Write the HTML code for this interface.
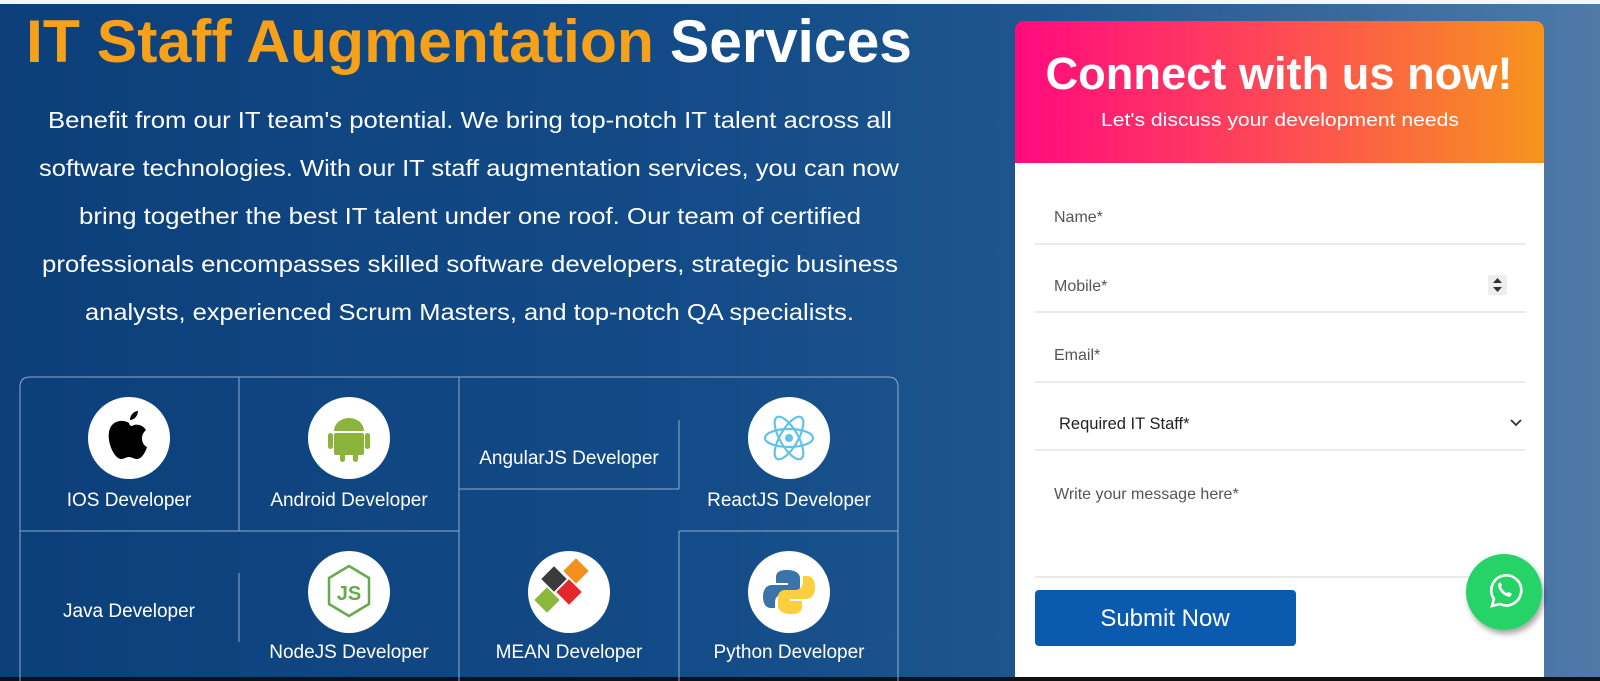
<!DOCTYPE html>
<html><head><meta charset="utf-8"><style>
html,body{margin:0;padding:0;width:1600px;height:681px;overflow:hidden;background:#0f4a86}
svg{display:block}
text{font-family:"Liberation Sans",sans-serif}
</style></head><body>
<svg width="1600" height="681" viewBox="0 0 1600 681" xmlns="http://www.w3.org/2000/svg">
<defs>
<linearGradient id="bg" x1="0" y1="0" x2="1" y2="0">
<stop offset="0" stop-color="#0c3f7a"/><stop offset="0.45" stop-color="#134c88"/><stop offset="0.65" stop-color="#1f568f"/><stop offset="1" stop-color="#4f7aa8"/>
</linearGradient>
<linearGradient id="hd" x1="0" y1="0" x2="1" y2="0">
<stop offset="0" stop-color="#ff0a7e"/><stop offset="0.5" stop-color="#fe4a55"/><stop offset="1" stop-color="#f7941d"/>
</linearGradient>
<filter id="sh" x="-30%" y="-30%" width="160%" height="160%"><feDropShadow dx="2" dy="4" stdDeviation="3" flood-opacity="0.35"/></filter>
</defs>
<rect width="1600" height="681" fill="url(#bg)"/>
<rect x="0" y="0" width="1600" height="4" fill="#f4f6f8"/>
<rect x="0" y="677" width="1600" height="4" fill="#111"/>

<text x="26" y="62" font-size="60" font-weight="bold" fill="#f7a11a" textLength="628" lengthAdjust="spacingAndGlyphs">IT Staff Augmentation</text>
<text x="670" y="62" font-size="60" font-weight="bold" fill="#fff" textLength="242" lengthAdjust="spacingAndGlyphs">Services</text>

<g fill="#fff" font-size="23">
<text x="48" y="128" textLength="844" lengthAdjust="spacingAndGlyphs">Benefit from our IT team's potential. We bring top-notch IT talent across all</text>
<text x="39" y="176" textLength="860" lengthAdjust="spacingAndGlyphs">software technologies. With our IT staff augmentation services, you can now</text>
<text x="79" y="224" textLength="782" lengthAdjust="spacingAndGlyphs">bring together the best IT talent under one roof. Our team of certified</text>
<text x="42" y="272" textLength="856" lengthAdjust="spacingAndGlyphs">professionals encompasses skilled software developers, strategic business</text>
<text x="85" y="320" textLength="769" lengthAdjust="spacingAndGlyphs">analysts, experienced Scrum Masters, and top-notch QA specialists.</text>
</g>

<g stroke="#9fb6d2" stroke-width="1" fill="none" opacity="0.9">
<path d="M20,690 V387 Q20,377 30,377 H888 Q898,377 898,387 V690"/>
<line x1="239" y1="377" x2="239" y2="531"/>
<line x1="459" y1="377" x2="459" y2="690"/>
<line x1="20" y1="531" x2="459" y2="531"/>
<line x1="459" y1="489" x2="679" y2="489"/>
<line x1="679" y1="420" x2="679" y2="489"/>
<line x1="679" y1="531" x2="679" y2="690"/>
<line x1="679" y1="531" x2="898" y2="531"/>
<line x1="239" y1="573" x2="239" y2="642"/>
</g>

<g fill="#fff">
<circle cx="129" cy="438" r="41"/>
<circle cx="349" cy="438" r="41"/>
<circle cx="789" cy="438" r="41"/>
<circle cx="349" cy="592" r="41"/>
<circle cx="569" cy="592" r="41"/>
<circle cx="789" cy="592" r="41"/>
</g>
<path d="M129,423 c-6,-4 -18,-3 -20,9 c-2,12 6,27 12,27 c3,0 5,-2 8,-2 c3,0 5,2 8,2 c5,0 9,-8 10,-12 c-6,-3 -7,-12 -1,-17 c-3,-5 -9,-6 -12,-5 c-2,1 -4,2 -5,-2z M130,420 c0,-5 4,-9 8,-9 c0,5 -4,9 -8,9z" fill="#000"/>
<g fill="#8cb33b">
<path d="M334,431 a15,13 0 0 1 30,0 z"/>
<rect x="334" y="433" width="30" height="22" rx="2"/>
<rect x="328" y="433" width="5" height="16" rx="2.5"/>
<rect x="365" y="433" width="5" height="16" rx="2.5"/>
<rect x="340" y="450" width="5" height="12" rx="2.5"/>
<rect x="353" y="450" width="5" height="12" rx="2.5"/>
</g>
<g stroke="#61c3e8" stroke-width="2.2" fill="none">
<ellipse cx="789" cy="438" rx="24" ry="9"/>
<ellipse cx="789" cy="438" rx="24" ry="9" transform="rotate(60 789 438)"/>
<ellipse cx="789" cy="438" rx="24" ry="9" transform="rotate(-60 789 438)"/>
</g>
<circle cx="789" cy="438" r="4" fill="#61c3e8"/>
<path d="M349,566 l20,12 v26 l-20,12 l-20,-12 v-26z" fill="none" stroke="#6aa84f" stroke-width="2.5"/>
<text x="349" y="600" font-size="20" fill="#6aa84f" text-anchor="middle" font-weight="bold">JS</text>
<g transform="translate(569,592)">
<rect x="-24" y="-22" width="18" height="18" fill="#3b3b3b" transform="rotate(45 -15 -13)"/>
<rect x="-2" y="-30" width="18" height="18" fill="#f4901e" transform="rotate(45 7 -21)"/>
<rect x="-31" y="-1" width="18" height="18" fill="#8ab83d" transform="rotate(45 -22 8)"/>
<rect x="-9" y="-9" width="18" height="18" fill="#e1282d" transform="rotate(45 0 0)"/>
</g>
<path d="M787,570 c-10,0 -11,4 -11,8 v5 h12 v2 h-16 c-6,0 -9,5 -9,12 c0,7 3,11 8,11 h4 v-6 c0,-5 4,-8 8,-8 h10 c4,0 7,-3 7,-7 v-9 c0,-4 -4,-8 -13,-8z" fill="#3a74aa"/>
<path d="M791,614 c10,0 11,-4 11,-8 v-5 h-12 v-2 h16 c6,0 9,-5 9,-12 c0,-7 -3,-11 -8,-11 h-4 v6 c0,5 -4,8 -8,8 h-10 c-4,0 -7,3 -7,7 v9 c0,4 4,8 13,8z" fill="#fccf3e"/>

<g fill="#fff" font-size="19" text-anchor="middle">
<text x="129" y="506">IOS Developer</text>
<text x="349" y="506">Android Developer</text>
<text x="569" y="464">AngularJS Developer</text>
<text x="789" y="506">ReactJS Developer</text>
<text x="129" y="617">Java Developer</text>
<text x="349" y="658">NodeJS Developer</text>
<text x="569" y="658">MEAN Developer</text>
<text x="789" y="658">Python Developer</text>
</g>

<path d="M1015,163 V31 Q1015,21 1025,21 H1534 Q1544,21 1544,31 V163z" fill="url(#hd)"/>
<rect x="1015" y="163" width="529" height="514" fill="#fff"/>
<text x="1279" y="89" font-size="45" font-weight="bold" fill="#fff" text-anchor="middle" textLength="467" lengthAdjust="spacingAndGlyphs">Connect with us now!</text>
<text x="1280" y="126" font-size="18.5" fill="#fff" text-anchor="middle" textLength="358" lengthAdjust="spacingAndGlyphs">Let's discuss your development needs</text>

<g stroke="#e3e3e3" stroke-width="1.5">
<line x1="1035" y1="244" x2="1526" y2="244"/>
<line x1="1035" y1="312" x2="1526" y2="312"/>
<line x1="1035" y1="382" x2="1526" y2="382"/>
<line x1="1035" y1="450" x2="1526" y2="450"/>
<line x1="1035" y1="577" x2="1526" y2="577"/>
</g>
<g font-size="16" fill="#555">
<text x="1054" y="222">Name*</text>
<text x="1054" y="291">Mobile*</text>
<text x="1054" y="360">Email*</text>
<text x="1059" y="429" fill="#222" font-size="16.5">Required IT Staff*</text>
<text x="1054" y="499">Write your message here*</text>
</g>
<rect x="1488" y="275" width="19" height="20" fill="#eee"/>
<path d="M1493,283 l4.5,-5 l4.5,5z M1493,287 l4.5,5 l4.5,-5z" fill="#333"/>
<path d="M1511,420 l5,5 l5,-5" stroke="#333" stroke-width="1.8" fill="none"/>

<rect x="1035" y="590" width="261" height="56" rx="4" fill="#0a5bb0"/>
<text x="1165" y="626" font-size="24" fill="#fff" text-anchor="middle">Submit Now</text>

<circle cx="1504" cy="592" r="38" fill="#25d366" filter="url(#sh)"/>
<g stroke="#fff" stroke-width="2.6" fill="none">
<path d="M1492,606 l2,-7 a15,15 0 1 1 6,5 z"/>
</g>
<path d="M1498,584 c0,6 5,12 12,13 l2,-3 l-3,-2 l-2,1 c-3,-1 -5,-4 -6,-6 l1,-2 l-2,-3z" fill="#fff"/>
</svg>
</body></html>
